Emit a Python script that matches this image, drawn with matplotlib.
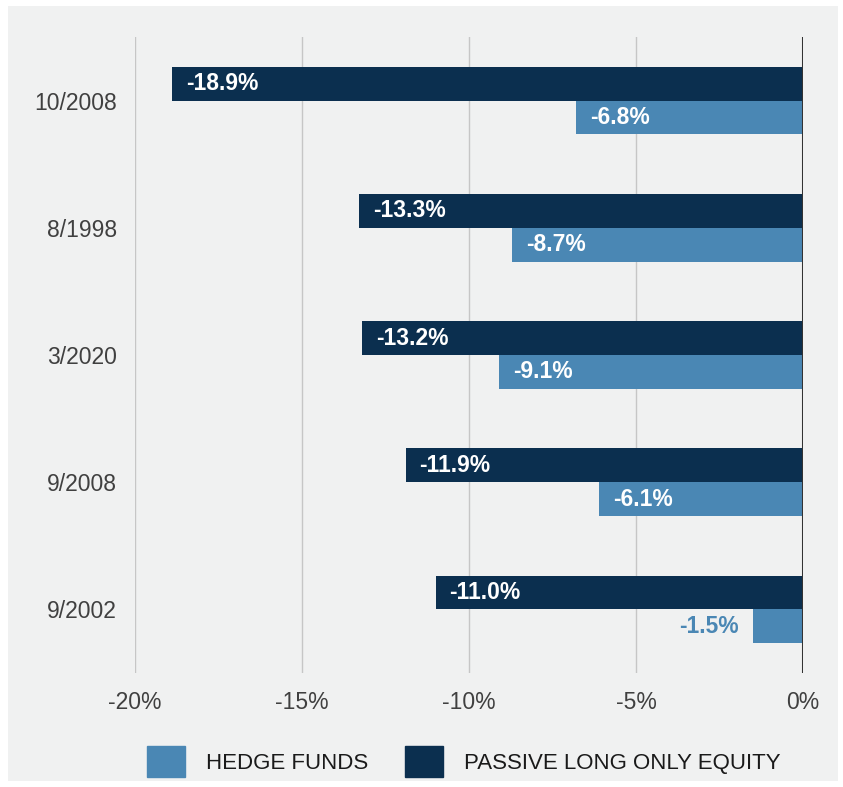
import matplotlib.pyplot as plt
from matplotlib.patches import Patch, Rectangle
import numpy as np

# drawdown months, top to bottom
periods = ['10/2008', '8/1998', '3/2020', '9/2008', '9/2002']
passive_equity = [-18.9, -13.3, -13.2, -11.9, -11.0]
hedge_funds = [-6.8, -8.7, -9.1, -6.1, -1.5]
x_ticks = [-20, -15, -10, -5, 0]
x_ticklabels = ['-20%', '-15%', '-10%', '-5%', '0%']

navy = '#0b2f4f'
blue = '#4a87b4'
bg = '#f0f1f1'

plt.rcParams['font.family'] = ['Liberation Sans', 'DejaVu Sans']

fig = plt.figure(figsize=(8.43, 7.87), dpi=100, facecolor='white')
# grey panel behind everything
fig.patches.append(Rectangle((8 / 843, 6 / 787), 830 / 843, 775 / 787,
                             transform=fig.transFigure, facecolor=bg,
                             edgecolor='none', zorder=-10))

ax = fig.add_axes([135 / 843, 1 - 673 / 787, 668 / 843, 636 / 787])
ax.set_facecolor(bg)
ax.patch.set_alpha(0)

y = np.arange(len(periods))
h = 0.265
ax.barh(y - h / 2, passive_equity, height=h, color=navy, zorder=3)
ax.barh(y + h / 2, hedge_funds, height=h, color=blue, zorder=3)

for yi, v in zip(y, passive_equity):
    ax.annotate(f'{v:.1f}%', (v, yi - h / 2), xytext=(14, 0), textcoords='offset pixels',
                ha='left', va='center', color='white', fontsize=16.5, fontweight='bold', zorder=4)
for yi, v in zip(y, hedge_funds):
    if v < -3:
        ax.annotate(f'{v:.1f}%', (v, yi + h / 2), xytext=(14, 0), textcoords='offset pixels',
                    ha='left', va='center', color='white', fontsize=16.5, fontweight='bold', zorder=4)
    else:
        ax.annotate(f'{v:.1f}%', (v, yi + h / 2), xytext=(-14, 0), textcoords='offset pixels',
                    ha='right', va='center', color=blue, fontsize=16.5, fontweight='bold', zorder=4)

ax.set_xlim(-20, 0)
ax.set_ylim(len(periods) - 0.5, -0.5)
ax.set_xticks(x_ticks)
ax.set_xticklabels(x_ticklabels)
ax.set_yticks(y)
ax.set_yticklabels(periods)
ax.tick_params(length=0, labelsize=16.5, labelcolor='#404040')
ax.tick_params(axis='x', pad=13)
ax.tick_params(axis='y', pad=13)

for t in x_ticks[:-1]:
    ax.axvline(t, color='#c6c6c6', lw=1, zorder=1)
ax.axvline(0, color='#333333', lw=2.2, zorder=5)

for s in ax.spines.values():
    s.set_visible(False)

handles = [Patch(color=blue, label='HEDGE FUNDS'),
           Patch(color=navy, label='PASSIVE LONG ONLY EQUITY')]
leg = fig.legend(handles=handles, loc='center', bbox_to_anchor=(464 / 843, 1 - 761.5 / 787),
                 ncol=2, frameon=False, borderpad=0, handlelength=1.71, handleheight=1.76,
                 handletextpad=0.95, columnspacing=1.67,
                 prop={'family': ['Liberation Sans Narrow', 'Liberation Sans'], 'size': 16})
for txt in leg.get_texts():
    txt.set_color('#1a1a1a')

fig.savefig('out.png', dpi=100, facecolor='white')
